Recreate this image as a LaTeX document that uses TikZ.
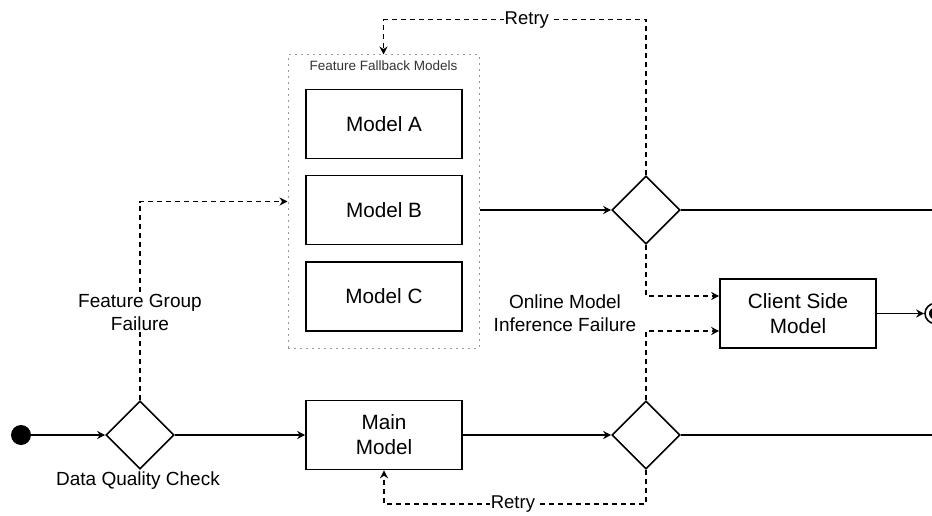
\documentclass[tikz,border=0pt]{standalone}
\usepackage{fontspec}
\setmainfont{Liberation Sans}
\usetikzlibrary{shapes.geometric}
\usetikzlibrary{arrows.meta}
\tikzset{
  every node/.style = {font = \fontsize{20.7}{25}\selectfont, align = center}
}
\tikzset{
    >={Stealth[length=8pt, width=8pt]}
}
\tikzset{
  model box/.style = {draw, line width=1.6pt, minimum width=156pt, minimum height=69pt, inner sep=0pt},
  decision/.style = {draw, diamond, line width=1.6pt, minimum width=68pt, minimum height=68pt, inner sep=0pt},
  flow/.style = {->, line width=1.6pt},
  plain flow/.style = {line width=1.6pt},
  fail flow/.style = {->, line width=1.6pt, dash pattern=on 5pt off 4pt},
  edge label/.style = {fill=white, inner sep=1pt, font = \fontsize{19}{23}\selectfont}
}

\begin{document}
\begin{tikzpicture}[x=1pt, y=-1pt]
  \useasboundingbox (0,0) rectangle (932,516);

  % nodes
  \node[circle, fill, minimum size=20pt, inner sep=0pt] (start) at (21,435) {};
  \node[decision] (dq) at (140,435) {};
  \node[model box] (main) at (384,435) {Main\\Model};
  \node[decision] (d2) at (646,435) {};
  \node[decision] (d3) at (646,210) {};
  \node[model box] (client) at (798,313.5) {Client Side\\Model};
  \node[circle, draw, line width=1.6pt, minimum size=20pt, inner sep=0pt,
    path picture={\fill (path picture bounding box.center) circle (6pt);}] (endnode) at (935,313.5) {};

  \node[draw=gray!80, line width=1pt, dash pattern=on 2pt off 4pt,
    minimum width=191pt, minimum height=293pt] (fallback) at (383.5,201.5) {};
  \node[font=\fontsize{13.5}{16}\selectfont, text=black!80] (fallback title) at (383.5,66) {Feature Fallback Models};
  \node[model box] (ma) at (384,124) {Model A};
  \node[model box] (mb) at (384,210) {Model B};
  \node[model box] (mc) at (384,296.5) {Model C};

  \coordinate (out top) at (940,210);
  \coordinate (out bottom) at (940,435);

  % main path
  \draw[flow] (start) -- (dq);
  \draw[flow] (dq) -- (main);
  \draw[flow] (main) -- (d2);
  \draw[plain flow] (d2) -- (out bottom);
  \draw[flow] (mb -| fallback.east) -- (d3);
  \draw[plain flow] (d3) -- (out top);
  \draw[flow] (client) -- (endnode);

  % failure paths
  \draw[fail flow] (dq.north) |- node[edge label, pos=0.22] {Feature Group\\Failure} (fallback.west);
  \draw[fail flow] (d3.north) -- ++(0,-155.5) -| node[edge label, pos=0.227, font=\fontsize{18.5}{22}\selectfont] {Retry} (fallback.north);
  \draw[fail flow] (d2.south) -- ++(0,34) -| node[edge label, pos=0.254, font=\fontsize{18.5}{22}\selectfont] {Retry} (main.south);
  \draw[fail flow] (d3.south) |- ([yshift=17.5pt]client.west);
  \draw[fail flow] (d2.north) |- ([yshift=-17.5pt]client.west);

  \node[edge label] (dq label) at (138,481) {Data Quality Check};
  \node[edge label] (online label) at (565,313) {Online Model\\Inference Failure};
\end{tikzpicture}
\end{document}
